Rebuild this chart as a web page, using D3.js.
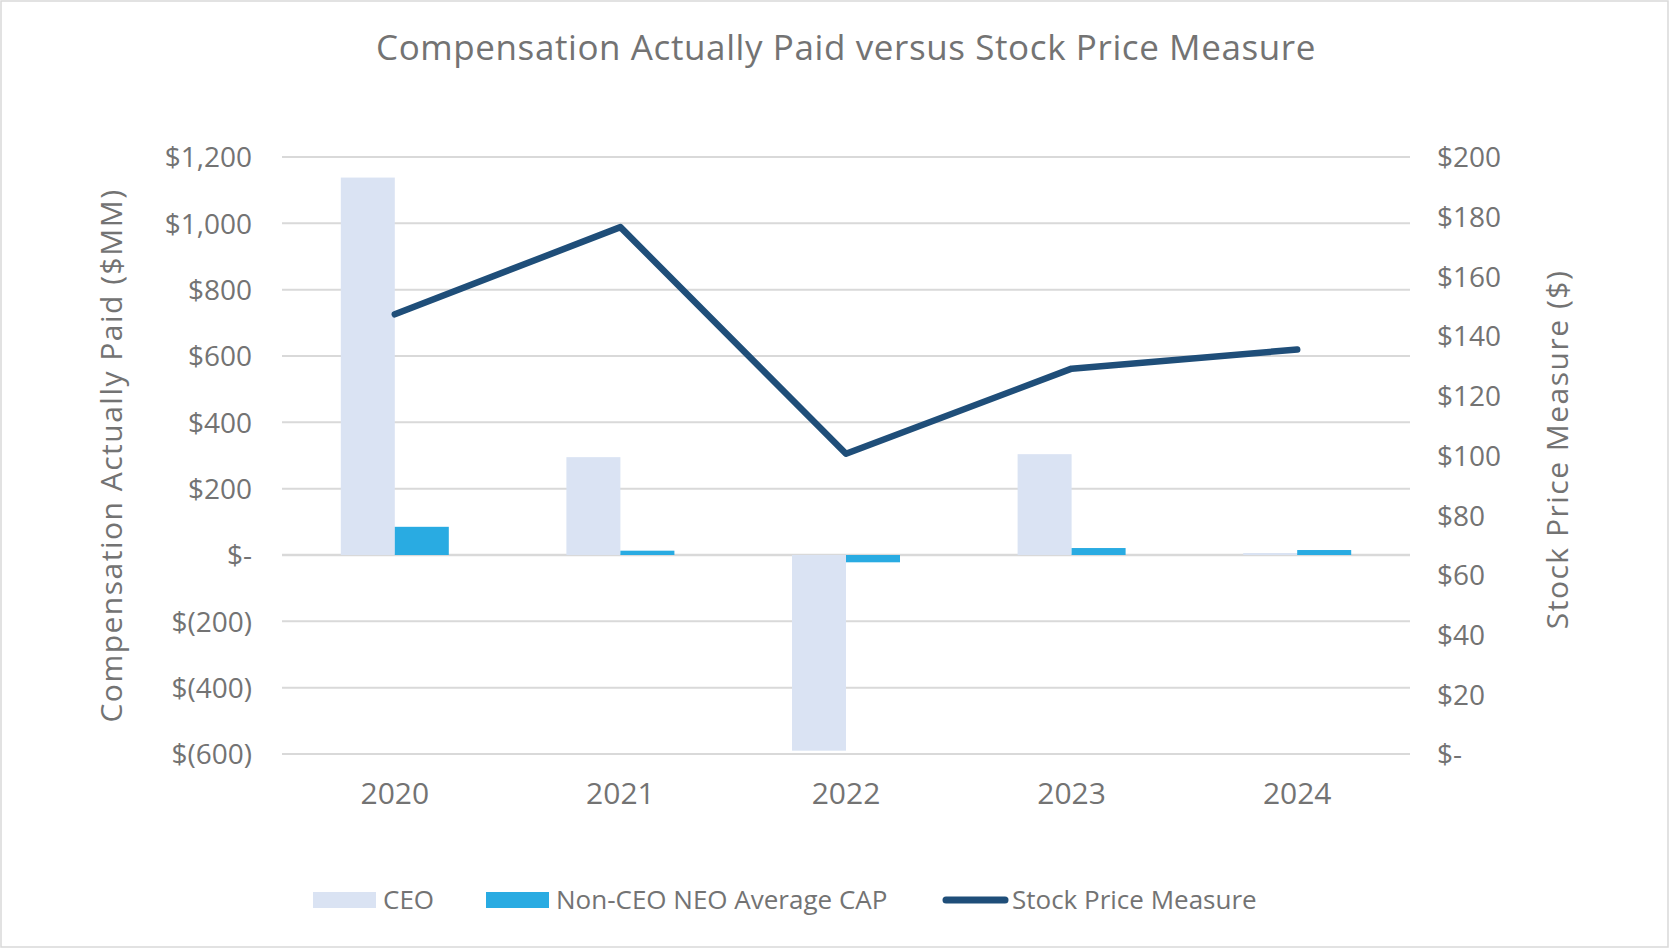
<!DOCTYPE html>
<html>
<head>
<meta charset="utf-8">
<script src="https://cdn.jsdelivr.net/npm/d3@7"></script>
<style>
  body { margin: 0; background: #fff; }
  text { font-family: "Open Sans", sans-serif; fill: #737373; }
</style>
</head>
<body>
<div id="chart"></div>
<script>
// chart data
const years = ["2020", "2021", "2022", "2023", "2024"];
const ceoCap = [1138, 295, -590, 304, 6];
const neoCap = [85, 13, -22, 21, 15];
const stockPrice = [147.3, 176.5, 100.6, 129.1, 135.5];
const leftTicks = [-600, -400, -200, 0, 200, 400, 600, 800, 1000, 1200];
const rightTicks = [0, 20, 40, 60, 80, 100, 120, 140, 160, 180, 200];

const W = 1669, H = 948;
const margin = { top: 157, right: 259, bottom: 194, left: 282 };
const width = W - margin.left - margin.right,
      height = H - margin.top - margin.bottom;

const svg = d3.select("#chart")
  .append("svg")
    .attr("width", W)
    .attr("height", H);

// outer border
svg.append("rect")
  .attr("x", 1).attr("y", 1)
  .attr("width", W - 2).attr("height", H - 2)
  .attr("fill", "#fff")
  .attr("stroke", "#d9d9d9")
  .attr("stroke-width", 1.5);

// title
svg.append("text")
  .attr("x", 846).attr("y", 48)
  .attr("dy", "0.35em")
  .attr("text-anchor", "middle")
  .style("font-size", "35px")
  .style("letter-spacing", "0.6px")
  .text("Compensation Actually Paid versus Stock Price Measure");

const g = svg.append("g")
  .attr("transform", `translate(${margin.left},${margin.top})`);

const x = d3.scaleBand().domain(years).range([0, width]);
const x1 = d3.scaleBand().domain(["ceo", "neo"])
  .range([x.bandwidth() / 2 - 54, x.bandwidth() / 2 + 54]);

const yL = d3.scaleLinear().domain([-600, 1200]).range([height, 0]);
const yR = d3.scaleLinear().domain([0, 200]).range([height, 0]);

// gridlines
g.append("g")
  .selectAll("line")
  .data(leftTicks)
  .join("line")
    .attr("x1", 0).attr("x2", width)
    .attr("y1", d => yL(d)).attr("y2", d => yL(d))
    .attr("stroke", "#d9d9d9")
    .attr("stroke-width", d => d === 0 ? 2.5 : 2);

const fmtL = d => d === 0 ? "$-" : d < 0 ? `$(${d3.format(",")(-d)})` : `$${d3.format(",")(d)}`;
const fmtR = d => d === 0 ? "$-" : `$${d}`;

// left axis
const axL = g.append("g")
  .attr("transform", "translate(-30,0)")
  .call(d3.axisLeft(yL).tickValues(leftTicks).tickFormat(fmtL).tickSize(0).tickPadding(0));
axL.select(".domain").remove();
axL.selectAll("text").style("font-size", "28px").attr("dy", "0.35em");

// right axis
const axR = g.append("g")
  .attr("transform", `translate(${width + 27},0)`)
  .call(d3.axisRight(yR).tickValues(rightTicks).tickFormat(fmtR).tickSize(0).tickPadding(0));
axR.select(".domain").remove();
axR.selectAll("text").style("font-size", "28px").attr("dy", "0.35em");

// x axis
const axX = g.append("g")
  .attr("transform", `translate(0,${793 - margin.top})`)
  .call(d3.axisBottom(x).tickSize(0).tickPadding(0));
axX.select(".domain").remove();
axX.selectAll("text").style("font-size", "30px").attr("y", 0).attr("dy", "0.35em");

// axis titles
svg.append("text")
  .attr("transform", `translate(111,${margin.top + height / 2}) rotate(-90)`)
  .attr("dy", "0.35em")
  .attr("text-anchor", "middle")
  .style("font-size", "30px")
  .style("letter-spacing", "1.5px")
  .text("Compensation Actually Paid ($MM)");

svg.append("text")
  .attr("transform", `translate(1557,${margin.top + height / 2 - 6}) rotate(-90)`)
  .attr("dy", "0.35em")
  .attr("text-anchor", "middle")
  .style("font-size", "30px")
  .style("letter-spacing", "1.5px")
  .text("Stock Price Measure ($)");

// bars
const groups = g.append("g")
  .selectAll("g")
  .data(years)
  .join("g")
    .attr("transform", d => `translate(${x(d)},0)`);

groups.append("rect")
  .attr("x", x1("ceo"))
  .attr("width", x1.bandwidth())
  .attr("y", (d, i) => yL(Math.max(0, ceoCap[i])))
  .attr("height", (d, i) => Math.abs(yL(ceoCap[i]) - yL(0)))
  .attr("fill", "#dae3f3");

groups.append("rect")
  .attr("x", x1("neo"))
  .attr("width", x1.bandwidth())
  .attr("y", (d, i) => yL(Math.max(0, neoCap[i])))
  .attr("height", (d, i) => Math.abs(yL(neoCap[i]) - yL(0)))
  .attr("fill", "#29abe2");

// stock price line
g.append("path")
  .datum(stockPrice)
  .attr("fill", "none")
  .attr("stroke", "#1f4e79")
  .attr("stroke-width", 6.5)
  .attr("stroke-linejoin", "round")
  .attr("stroke-linecap", "round")
  .attr("d", d3.line()
    .x((d, i) => x(years[i]) + x.bandwidth() / 2)
    .y(d => yR(d)));

// legend
const legend = svg.append("g").attr("transform", "translate(0,900)");
const items = [
  { label: "CEO", color: "#dae3f3", type: "rect", x: 313 },
  { label: "Non-CEO NEO Average CAP", color: "#29abe2", type: "rect", x: 486 },
  { label: "Stock Price Measure", color: "#1f4e79", type: "line", x: 942 }
];
items.forEach(it => {
  if (it.type === "rect") {
    legend.append("rect")
      .attr("x", it.x).attr("y", -8)
      .attr("width", 63).attr("height", 16)
      .attr("fill", it.color);
  } else {
    legend.append("line")
      .attr("x1", it.x + 4).attr("x2", it.x + 63)
      .attr("y1", 0).attr("y2", 0)
      .attr("stroke", it.color)
      .attr("stroke-width", 7)
      .attr("stroke-linecap", "round");
  }
  legend.append("text")
    .attr("x", it.x + 70).attr("y", 0)
    .attr("dy", "0.35em")
    .style("font-size", "26px")
    .text(it.label);
});
</script>
</body>
</html>
